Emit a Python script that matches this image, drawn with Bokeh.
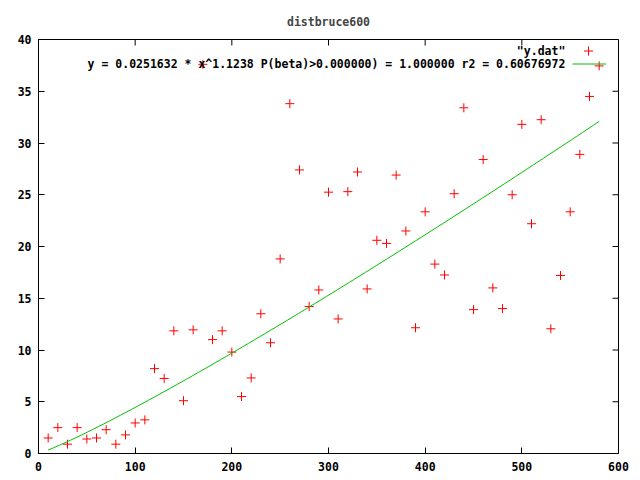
import numpy as np
from bokeh.plotting import figure
from bokeh.models import (Range1d, LinearAxis, FixedTicker, Label,
                          Legend, LegendItem, Title)
from bokeh.embed import file_html
from bokeh.resources import INLINE

# ---- data ----
x_vals = [10, 20, 30, 40, 50, 60, 70, 80, 90, 100,
          110, 120, 130, 140, 150, 160, 170, 180, 190, 200,
          210, 220, 230, 240, 250, 260, 270, 280, 290, 300,
          310, 320, 330, 340, 350, 360, 370, 380, 390, 400,
          410, 420, 430, 440, 450, 460, 470, 480, 490, 500,
          510, 520, 530, 540, 550, 560, 570, 580]
y_vals = [1.5, 2.5, 0.9, 2.5, 1.4, 1.5, 2.3, 0.9, 1.8, 2.95,
          3.25, 8.2, 7.25, 11.85, 5.1, 11.95, 37.6, 11.0, 11.85, 9.8,
          5.5, 7.3, 13.5, 10.7, 18.8, 33.8, 27.4, 14.2, 15.8, 25.25,
          13.0, 25.3, 27.2, 15.9, 20.6, 20.3, 26.9, 21.5, 12.15, 23.35,
          18.3, 17.25, 25.1, 33.4, 13.9, 28.4, 16.0, 14.0, 25.0, 31.8,
          22.2, 32.25, 12.05, 17.2, 23.35, 28.9, 34.5, 37.45]

fit_a = 0.0251632
fit_b = 1.1238
fit_x_start = 10
fit_x_end = 580
fit_samples = 100

x_ticks = [0, 100, 200, 300, 400, 500, 600]
y_ticks = [0, 5, 10, 15, 20, 25, 30, 35, 40]

title_text = "distbruce600"
series_label = '"y.dat"'
fit_label = "y = 0.0251632 * x^1.1238 P(beta)>0.000000) = 1.000000 r2 = 0.60676972"

FONT = "DejaVu Sans Mono"
FS = "11.5px"
X0, X1, Y0, Y1 = 0, 600, 0, 40
FW, FH = 580, 414
TICK = 6
px_y = (Y1 - Y0) / FH   # data units per pixel, vertical
px_x = (X1 - X0) / FW   # data units per pixel, horizontal

fit_x = np.linspace(fit_x_start, fit_x_end, fit_samples)
fit_y = fit_a * fit_x ** fit_b

p = figure(width=640, height=480, output_backend="svg", toolbar_location=None,
           x_range=Range1d(X0, X1), y_range=Range1d(Y0, Y1),
           frame_width=FW, frame_height=FH,
           min_border_left=38, min_border_right=22, min_border_top=39,
           min_border_bottom=27, x_axis_location=None, y_axis_location=None)
p.grid.visible = False
p.outline_line_color = "black"
p.outline_line_width = 1
p.background_fill_color = "white"
p.border_fill_color = "white"

def style_axis(ax):
    ax.major_tick_in = TICK
    ax.major_tick_out = 0
    ax.minor_tick_in = 0
    ax.minor_tick_out = 0
    ax.axis_line_color = "black"
    ax.major_tick_line_color = "black"
    ax.major_label_text_font = FONT
    ax.major_label_text_font_style = "bold"
    ax.major_label_text_color = "black"
    ax.major_label_text_font_size = FS

bx = LinearAxis(ticker=FixedTicker(ticks=x_ticks))
style_axis(bx)
bx.major_label_standoff = 8
p.add_layout(bx, "below")
ly = LinearAxis(ticker=FixedTicker(ticks=y_ticks))
style_axis(ly)
ly.major_label_standoff = 7
p.add_layout(ly, "left")

# mirrored (inward) ticks on the top and right borders, as gnuplot draws them
p.segment(x0=x_ticks, y0=[Y1] * len(x_ticks), x1=x_ticks,
          y1=[Y1 - TICK * px_y] * len(x_ticks), line_color="black", line_width=1)
p.segment(x0=[X1] * len(y_ticks), y0=y_ticks, x1=[X1 - TICK * px_x] * len(y_ticks),
          y1=y_ticks, line_color="black", line_width=1)

p.title = Title(text=title_text, align="center", text_font=FONT,
                text_font_style="bold", text_font_size=FS, standoff=22,
                offset=2)

pts = p.scatter(x_vals, y_vals, marker="cross", size=9, line_color="#ff0000",
                line_width=1)
fit = p.line(fit_x, fit_y, line_color="#00c000", line_width=1)

# key (gnuplot style: text right-aligned, sample to its right)
common = dict(padding=0, spacing=0, margin=0, label_standoff=0,
              label_text_font=FONT, label_text_font_size=FS,
              border_line_alpha=0, background_fill_alpha=0)
leg1 = Legend(items=[LegendItem(label=" ", renderers=[pts])],
              location=(533, 391), glyph_width=34, glyph_height=23,
              label_width=13, label_height=23, **common)
leg2 = Legend(items=[LegendItem(label=" ", renderers=[fit])],
              location=(534, 383), glyph_width=34, glyph_height=13,
              label_width=13, label_height=13, **common)
p.add_layout(leg1)
p.add_layout(leg2)

for txt, yy in [(series_label, Y1 - 11 * px_y), (fit_label, Y1 - 24 * px_y)]:
    p.add_layout(Label(x=545, y=yy, text=txt, text_align="right",
                       text_baseline="middle", text_font=FONT,
                       text_font_style="bold", text_font_size=FS,
                       text_color="black"))

open("out.html", "w").write(file_html(p, INLINE))
